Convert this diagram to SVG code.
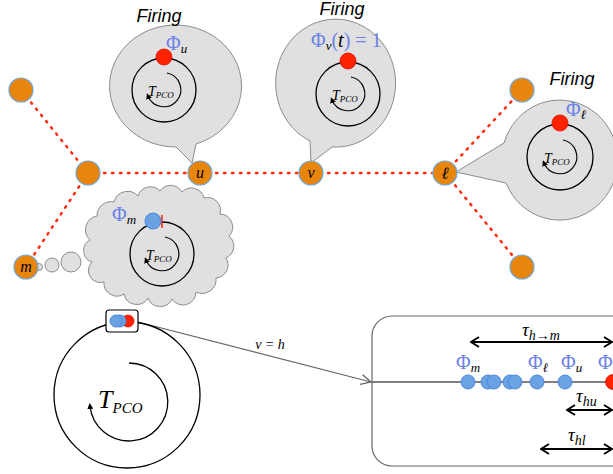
<svg xmlns="http://www.w3.org/2000/svg" width="613" height="474" viewBox="0 0 613 474">
<style>
.node{fill:#E8850C;stroke:#6FA8DC;stroke-width:1.2}
.edge{stroke:#FF2A10;stroke-width:2.5;stroke-dasharray:1.5 6.5;stroke-linecap:round;fill:none}
.bub{fill:#E0E0E0;stroke:#8C8C8C;stroke-width:1}
.ring{fill:none;stroke:#000;stroke-width:1.3}
.fire{font-family:"Liberation Sans",Arial,sans-serif;font-style:italic;font-size:18px;fill:#000}
.math{font-family:"Liberation Serif","Times New Roman",serif;font-style:italic;fill:#000}
.phi{font-family:"Liberation Serif","Times New Roman",serif;fill:#6A82E6}
.red{fill:#FF2200;stroke:#E01000;stroke-width:0.8}
.blue{fill:#6AA2E2;stroke:#4A86E0;stroke-width:1}
.dbl{stroke:#000;stroke-width:2;fill:none}
</style>
<defs>
<marker id="ah" viewBox="0 0 6 6" refX="3" refY="3" markerWidth="6" markerHeight="6" markerUnits="userSpaceOnUse" orient="auto"><path d="M0,0 L6,3 L0,6 z" fill="#000"/></marker>
<marker id="chev" viewBox="0 0 10 12" refX="9" refY="6" markerWidth="10" markerHeight="12" markerUnits="userSpaceOnUse" orient="auto-start-reverse"><path d="M1,1 L9,6 L1,11" fill="none" stroke="#000" stroke-width="2"/></marker>
<marker id="open" viewBox="0 0 12 12" refX="11" refY="6" markerWidth="12" markerHeight="12" markerUnits="userSpaceOnUse" orient="auto"><path d="M1,1 L11,6 L1,11" fill="none" stroke="#666" stroke-width="1.3"/></marker>
</defs>

<g id="connectors">
<line class="edge" x1="21" y1="90" x2="88" y2="173"/>
<line class="edge" x1="88" y1="173" x2="26" y2="267"/>
<line class="edge" x1="88" y1="173" x2="445" y2="173"/>
<line class="edge" x1="445" y1="173" x2="522" y2="90"/>
<line class="edge" x1="445" y1="173" x2="522" y2="267"/>
<line x1="138" y1="322" x2="371" y2="382" stroke="#666" stroke-width="1.2" marker-end="url(#open)"/>
<text class="math" x="270" y="349" font-size="14" text-anchor="middle">v = h</text>
</g>

<g id="bubble-u">
<path class="bub" d="M176,147 L192,163 L196,144 A66,61 0 1 0 176,147 Z"/>
<circle class="ring" cx="164" cy="90" r="32"/>
<path d="M167,73 A17,17 0 1 1 148,96" fill="none" stroke="#000" stroke-width="1.2" marker-end="url(#ah)"/>
<text class="math" x="148" y="96" font-size="14">T<tspan font-size="9" dy="2">PCO</tspan></text>
<circle class="red" cx="164" cy="57" r="8"/>
<text class="phi" x="166" y="50" font-size="20">Φ<tspan class="math" font-size="13" dy="3" fill="#6A82E6">u</tspan></text>
<text class="fire" x="159" y="22" text-anchor="middle">Firing</text>
</g>

<g id="bubble-v">
<path class="bub" d="M310,141 L311,163 L332,147 A60,64 0 1 0 310,141 Z"/>
<circle class="ring" cx="348" cy="94" r="32"/>
<path d="M351,77 A17,17 0 1 1 332,100" fill="none" stroke="#000" stroke-width="1.2" marker-end="url(#ah)"/>
<text class="math" x="332" y="100" font-size="14">T<tspan font-size="9" dy="2">PCO</tspan></text>
<circle class="red" cx="348" cy="61" r="8"/>
<text class="phi" x="311" y="47" font-size="20">Φ<tspan class="math" font-size="13" dy="3" fill="#6A82E6">v</tspan><tspan dy="-3" fill="#6A82E6">(<tspan class="math" fill="#6A82E6">t</tspan>) = 1</tspan></text>
<text class="fire" x="342" y="15" text-anchor="middle">Firing</text>
</g>

<g id="bubble-l">
<path class="bub" d="M504,143 L456,172 L506,183 A58,60 0 1 0 504,143 Z"/>
<circle class="ring" cx="560" cy="157" r="33"/>
<path d="M563,140 A17,17 0 1 1 544,163" fill="none" stroke="#000" stroke-width="1.2" marker-end="url(#ah)"/>
<text class="math" x="544" y="163" font-size="14">T<tspan font-size="9" dy="2">PCO</tspan></text>
<circle class="red" cx="560" cy="123" r="8"/>
<text class="phi" x="566" y="116" font-size="20">Φ<tspan class="math" font-size="13" dy="3" fill="#6A82E6">ℓ</tspan></text>
<text class="fire" x="572" y="85" text-anchor="middle">Firing</text>
</g>

<g id="cloud-m">
<circle class="bub" cx="39" cy="267" r="3.5"/>
<circle class="bub" cx="52" cy="265" r="7"/>
<circle class="bub" cx="71" cy="262" r="10"/>
<path class="bub" d="M90,240 A14,14 0 0 1 97,216 A14,14 0 0 1 114,202 A14,14 0 0 1 138,196 A13,13 0 0 1 160,191 A13,13 0 0 1 182,192 A13,13 0 0 1 204,198 A13,13 0 0 1 220,214 A13,13 0 0 1 229,236 A13,13 0 0 1 226,258 A13,13 0 0 1 216,278 A14,14 0 0 1 196,292 A13,13 0 0 1 172,299 A13,13 0 0 1 148,298 A13,13 0 0 1 124,294 A13,13 0 0 1 104,282 A12,12 0 0 1 92,262 A12,12 0 0 1 90,240 Z"/>
<circle class="ring" cx="162" cy="254" r="32"/>
<path d="M165,237 A17,17 0 1 1 146,260" fill="none" stroke="#000" stroke-width="1.2" marker-end="url(#ah)"/>
<text class="math" x="146" y="260" font-size="14">T<tspan font-size="9" dy="2">PCO</tspan></text>
<line x1="162" y1="215" x2="162" y2="228" stroke="#FF2200" stroke-width="1.5"/>
<circle class="blue" cx="153" cy="221" r="8"/>
<text class="phi" x="112" y="221" font-size="20">Φ<tspan class="math" font-size="13" dy="3" fill="#6A82E6">m</tspan></text>
</g>

<g id="n-tl"><circle class="node" cx="21" cy="90" r="12"/></g>
<g id="n-hub"><circle class="node" cx="88" cy="173" r="12"/></g>
<g id="n-u"><circle class="node" cx="200" cy="173" r="12"/><text class="math" x="200" y="178" font-size="16" text-anchor="middle">u</text></g>
<g id="n-v"><circle class="node" cx="311" cy="173" r="12"/><text class="math" x="311" y="178" font-size="16" text-anchor="middle">v</text></g>
<g id="n-l"><circle class="node" cx="445" cy="173" r="12"/><text class="math" x="445" y="179" font-size="17" text-anchor="middle">ℓ</text></g>
<g id="n-tr"><circle class="node" cx="522" cy="90" r="12"/></g>
<g id="n-br"><circle class="node" cx="522" cy="267" r="12"/></g>
<g id="n-m"><circle class="node" cx="26" cy="267" r="12"/><text class="math" x="26" y="272" font-size="16" text-anchor="middle">m</text></g>

<g id="clock">
<circle class="ring" cx="127" cy="395" r="73"/>
<path d="M129,363 A39,39 0 1 1 90,406" fill="none" stroke="#000" stroke-width="1.3" marker-end="url(#ah)"/>
<text class="math" x="98" y="408" font-size="26">T<tspan font-size="15" dy="5">PCO</tspan></text>
<rect x="106" y="310" width="32" height="22" rx="3" fill="#fff" stroke="#000" stroke-width="1.2"/>
<circle class="red" cx="128" cy="321" r="6"/>
<circle class="blue" cx="120" cy="321" r="6"/>
<circle class="blue" cx="116" cy="321" r="6"/>
</g>

<g id="panel">
<rect x="372" y="316" width="270" height="150" rx="20" fill="#fff" stroke="#666" stroke-width="1.2"/>
<line x1="372" y1="382" x2="613" y2="382" stroke="#555" stroke-width="1.3"/>
<circle class="blue" cx="468" cy="382" r="7"/>
<circle class="blue" cx="488" cy="382" r="7"/>
<circle class="blue" cx="494" cy="382" r="7"/>
<circle class="blue" cx="510" cy="382" r="7"/>
<circle class="blue" cx="515" cy="382" r="7"/>
<circle class="blue" cx="537" cy="382" r="7"/>
<circle class="blue" cx="565" cy="382" r="7"/>
<circle class="red" cx="613" cy="382" r="7.5"/>
<text class="phi" x="456" y="369" font-size="20">Φ<tspan class="math" font-size="13" dy="3" fill="#6A82E6">m</tspan></text>
<text class="phi" x="528" y="369" font-size="20">Φ<tspan class="math" font-size="13" dy="3" fill="#6A82E6">ℓ</tspan></text>
<text class="phi" x="561" y="369" font-size="20">Φ<tspan class="math" font-size="13" dy="3" fill="#6A82E6">u</tspan></text>
<text class="phi" x="598" y="369" font-size="20">Φ</text>
<line class="dbl" x1="471" y1="342" x2="612" y2="342" marker-start="url(#chev)" marker-end="url(#chev)"/>
<text class="math" x="522" y="336" font-size="19">τ<tspan font-size="14" dy="4">h→m</tspan></text>
<line class="dbl" x1="567" y1="410" x2="612" y2="410" marker-start="url(#chev)" marker-end="url(#chev)"/>
<text class="math" x="576" y="402" font-size="19">τ<tspan font-size="14" dy="4">hu</tspan></text>
<line class="dbl" x1="541" y1="449" x2="612" y2="449" marker-start="url(#chev)" marker-end="url(#chev)"/>
<text class="math" x="568" y="441" font-size="19">τ<tspan font-size="14" dy="4">hl</tspan></text>
</g>
</svg>
